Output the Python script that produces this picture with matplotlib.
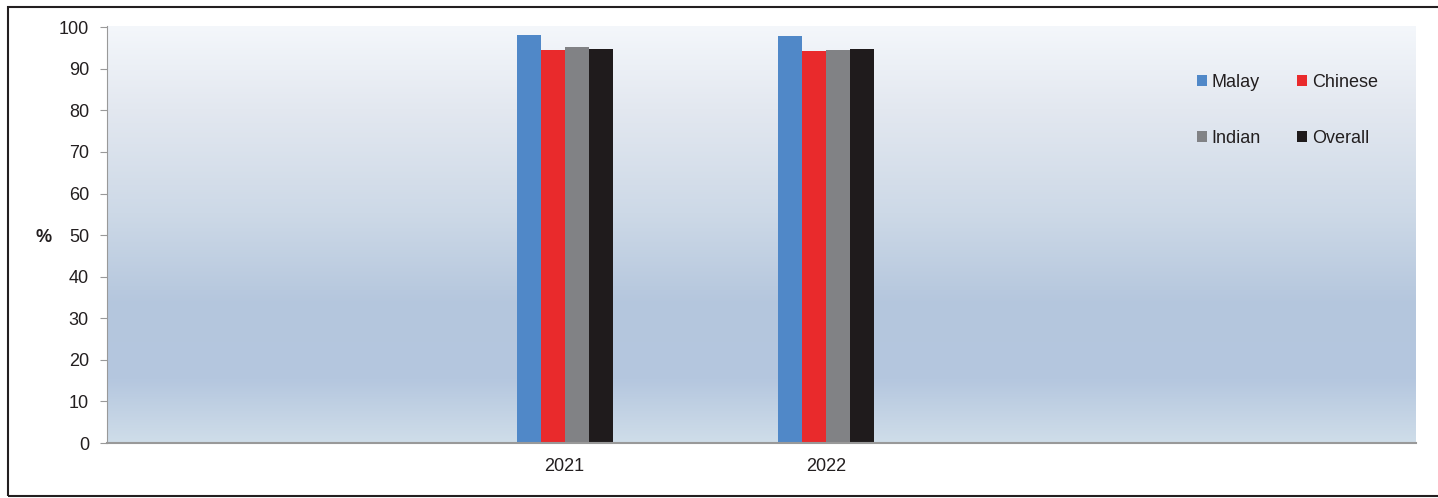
import numpy as np
import matplotlib.pyplot as plt
from matplotlib.colors import LinearSegmentedColormap
from matplotlib.patches import Rectangle

years = ["2021", "2022"]
groups = ["Malay", "Chinese", "Indian", "Overall"]
malay = [98.1, 98.0]
chinese = [94.5, 94.3]
indian = [95.2, 94.6]
overall = [94.8, 94.7]
colors = ["#5088c8", "#e92a2c", "#818285", "#1f1b1c"]

plt.rcParams['font.family'] = ['Liberation Sans', 'DejaVu Sans']

fig = plt.figure(figsize=(14.38, 4.98), dpi=100)
ax = fig.add_axes([107 / 1438, 55 / 498, 1309 / 1438, 417 / 498])

# gradient background of the plot area
grad = LinearSegmentedColormap.from_list(
    "bg", [(0.0, "#cfdde9"), (0.15, "#b5c7df"), (0.33, "#b4c6dd"),
           (0.55, "#cdd9e7"), (0.8, "#e3e8f0"), (1.0, "#f4f7fb")])
ax.imshow(np.linspace(0, 1, 256).reshape(-1, 1), cmap=grad, origin="lower",
          extent=[-1.748, 3.252, 0, 100.3], aspect="auto", zorder=0)

x = np.arange(len(years))
w = 0.0916
bars = []
for i, (name, vals) in enumerate(zip(groups, [malay, chinese, indian, overall])):
    bars.append(ax.bar(x + (i - 1.5) * w, vals, w, color=colors[i], label=name, zorder=2))

ax.set_xlim(-1.748, 3.252)
ax.set_ylim(0, 100.3)
ax.set_yticks(range(0, 101, 10))
ax.set_xticks(x)
ax.set_xticklabels(years)
ax.tick_params(axis="x", length=0, pad=11, labelsize=13, colors="#231f20")
ax.tick_params(axis="y", length=5, color="#999999", pad=8, labelsize=13, labelcolor="#231f20")
for s in ["top", "right"]:
    ax.spines[s].set_visible(False)
ax.spines["left"].set_color("#999999")
ax.spines["bottom"].set_color("#999999")
ax.spines["bottom"].set_linewidth(1.5)

fig.text(44 / 1438, 1 - 238 / 498, "%", fontsize=13, fontweight="bold",
         ha="center", va="center", color="#231f20")

# row-major legend order: Malay, Chinese / Indian, Overall
order = [0, 2, 1, 3]
ax.legend([bars[k] for k in order], [groups[k] for k in order],
          ncol=2, loc="upper left", bbox_to_anchor=(0.82, 0.925), frameon=False,
          handlelength=0.55, handleheight=0.55, handletextpad=0.25, columnspacing=2.05,
          labelspacing=2.2, fontsize=13, labelcolor="#231f20")

fig.add_artist(Rectangle((8 / 1438, 2 / 498), 1.1, 489 / 498, transform=fig.transFigure,
                         fill=False, edgecolor="#231f20", linewidth=1.5))

fig.savefig("out.png", dpi=100)
